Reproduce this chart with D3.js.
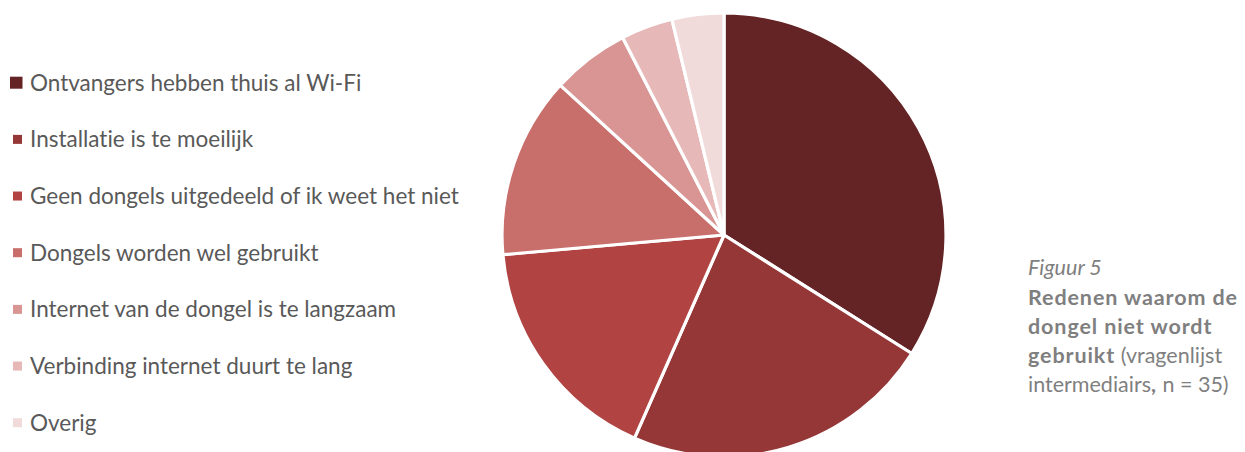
<!DOCTYPE html>
<html>
<head>
<meta charset="utf-8">
<script src="https://cdn.jsdelivr.net/npm/d3@7"></script>
<style>
  body { margin: 0; background: #fff; }
  svg { display: block; font-family: Lato, "Open Sans", sans-serif; font-variant-ligatures: none; }
</style>
</head>
<body>
<div id="chart"></div>
<script>
// reasons why the dongle is not used (counts of answers)
var categories = [
    "Ontvangers hebben thuis al Wi-Fi",
    "Installatie is te moeilijk",
    "Geen dongels uitgedeeld of ik weet het niet",
    "Dongels worden wel gebruikt",
    "Internet van de dongel is te langzaam",
    "Verbinding internet duurt te lang",
    "Overig"
];
var counts = [18, 12, 9, 7, 3, 2, 2];
var colors = ["#642324", "#953637", "#B14442", "#C86E6B", "#D99594", "#E6B8B7", "#F1DADA"];

var width = 1245, height = 452;

var svg = d3.select("#chart")
    .append("svg")
    .attr("width", width)
    .attr("height", height);

var data = categories.map(function(c, i){
    return { label: c, value: counts[i], color: colors[i] };
});

// pie
var cx = 724, cy = 235, radius = 222;
var pie = d3.pie().sort(null).value(function(d){ return d.value; });
var arc = d3.arc().innerRadius(0).outerRadius(radius);

var g = svg.append("g")
    .attr("transform", "translate(" + cx + "," + cy + ")");

g.selectAll("path")
    .data(pie(data))
    .enter()
    .append("path")
    .attr("d", arc)
    .attr("fill", function(d){ return d.data.color; })
    .attr("stroke", "#fff")
    .attr("stroke-width", 3.2)
    .attr("stroke-linejoin", "round");

// legend
var legendY = d3.scalePoint()
    .domain(categories)
    .range([82.7, 422.7]);

var legend = svg.append("g").attr("class", "legend");
var items = legend.selectAll("g")
    .data(data)
    .enter()
    .append("g")
    .attr("transform", function(d){ return "translate(0," + legendY(d.label) + ")"; });

items.append("rect")
    .attr("x", function(d, i){ return i === 0 ? 10 : 13; })
    .attr("y", function(d, i){ return i === 0 ? -6 : -4.5; })
    .attr("width", function(d, i){ return i === 0 ? 12.5 : 9; })
    .attr("height", function(d, i){ return i === 0 ? 12 : 9; })
    .attr("fill", function(d){ return d.color; });

items.append("text")
    .attr("x", 30)
    .attr("y", 8)
    .attr("font-size", "22.5px")
    .attr("fill", "#595959")
    .text(function(d){ return d.label; });

// caption
var cap = svg.append("g")
    .attr("transform", "translate(1028,0)")
    .attr("font-size", "21.5px")
    .attr("fill", "#7F7F7F");

cap.append("text")
    .attr("y", 275)
    .attr("font-style", "italic")
    .text("Figuur 5");

var capLines = [
    [["Redenen waarom de", true]],
    [["dongel niet wordt", true]],
    [["gebruikt", true], [" (vragenlijst", false]],
    [["intermediairs", false], [",", true], [" n = 35)", false]]
];

capLines.forEach(function(line, i){
    var t = cap.append("text").attr("y", 305 + i * 29);
    line.forEach(function(part){
        t.append("tspan")
            .attr("font-weight", part[1] ? "bold" : "normal")
            .attr("letter-spacing", part[1] ? "0.9px" : null)
            .text(part[0]);
    });
});
</script>
</body>
</html>
